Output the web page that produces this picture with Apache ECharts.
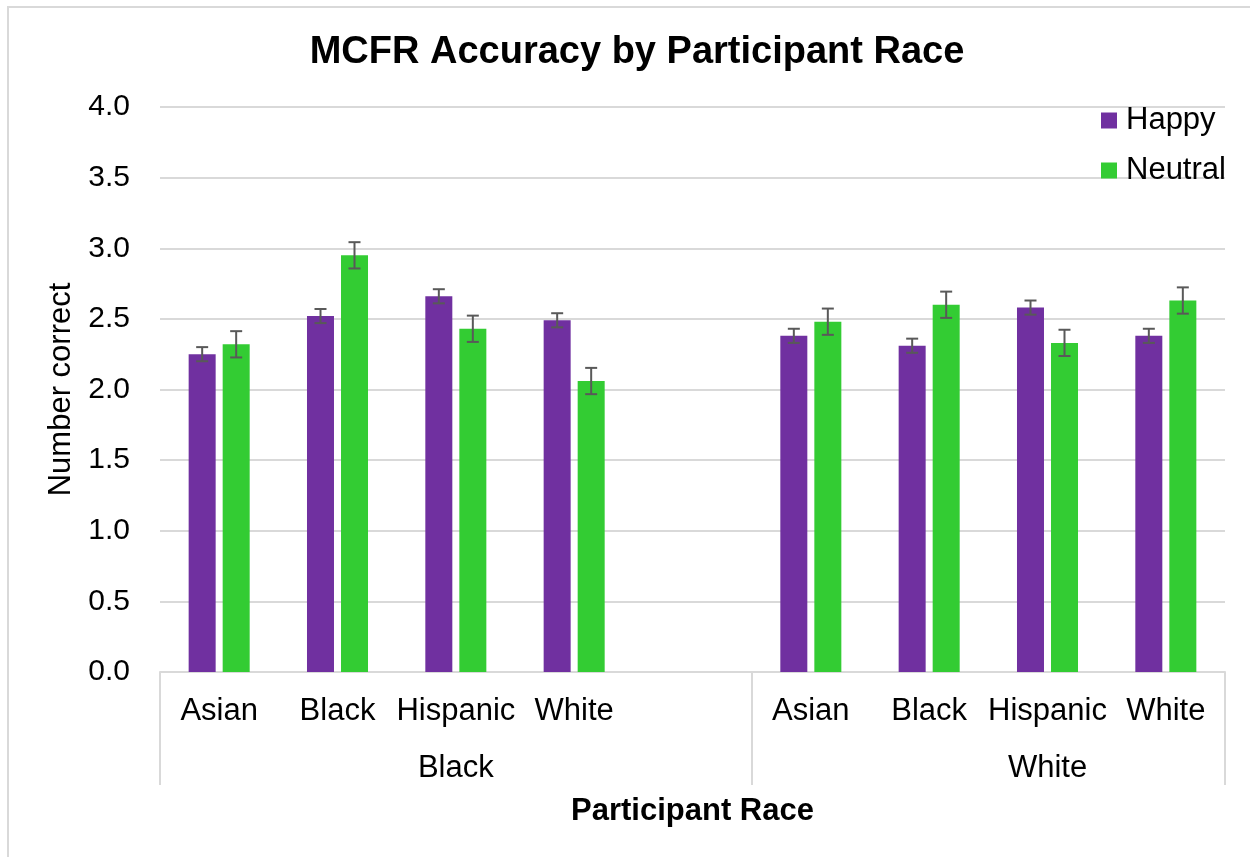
<!DOCTYPE html>
<html>
<head>
<meta charset="utf-8">
<script src="https://cdn.jsdelivr.net/npm/echarts@6/dist/echarts.min.js"></script>
<style>
  html, body { margin: 0; padding: 0; background: #ffffff; }
  #chart { width: 1250px; height: 857px; }
</style>
</head>
<body>
<div id="chart"></div>
<script>
// categories (empty slot keeps the gap after the first group)
var categories = ['Asian', 'Black', 'Hispanic', 'White', '', 'Asian', 'Black', 'Hispanic', 'White'];
var groupNames = ['Black', 'White'];
var groupSizes = [5, 4];
var happy = [2.25, 2.52, 2.66, 2.49, null, 2.38, 2.31, 2.58, 2.38];
var neutral = [2.32, 2.95, 2.43, 2.06, null, 2.48, 2.60, 2.33, 2.63];
var happyErr = [0.05, 0.05, 0.05, 0.05, null, 0.05, 0.05, 0.05, 0.05];
var neutralErr = [0.093, 0.093, 0.093, 0.093, null, 0.093, 0.093, 0.093, 0.093];
var yTicks = [0, 0.5, 1, 1.5, 2, 2.5, 3, 3.5, 4];

var font = 'Arial, "Liberation Sans", sans-serif';
var barW = 27, barGapPx = 7;

// group boundaries and label centres on a 0..n value axis
var bounds = [0], centres = [];
groupSizes.forEach(function (s, k) {
  var start = bounds[k];
  bounds.push(start + s);
  centres.push(start + (k === 0 ? s - 1 : s) / 2);
});

function errData(vals, errs) {
  var out = [];
  vals.forEach(function (v, i) {
    if (v != null) out.push([i, v, errs[i]]);
  });
  return out;
}

function errRender(offset) {
  return function (params, api) {
    var i = api.value(0), v = api.value(1), e = api.value(2);
    var top = api.coord([i, v + e]);
    var bot = api.coord([i, v - e]);
    var x = top[0] + offset;
    var st = { stroke: '#595959', lineWidth: 2 };
    return {
      type: 'group',
      children: [
        { type: 'line', shape: { x1: x, y1: top[1], x2: x, y2: bot[1] }, style: st },
        { type: 'line', shape: { x1: x - 6, y1: top[1], x2: x + 6, y2: top[1] }, style: st },
        { type: 'line', shape: { x1: x - 6, y1: bot[1], x2: x + 6, y2: bot[1] }, style: st }
      ]
    };
  };
}

var chart = echarts.init(document.getElementById('chart'), null, { renderer: 'canvas' });
var off = (barW + barGapPx) / 2;

var option = {
  backgroundColor: '#ffffff',
  animation: false,
  graphic: [{
    type: 'rect',
    shape: { x: 8, y: 7, width: 1300, height: 900 },
    style: { fill: 'none', stroke: '#d9d9d9', lineWidth: 2 },
    silent: true
  }],
  title: {
    text: 'MCFR Accuracy by Participant Race',
    left: 632,
    top: 29,
    textAlign: 'center',
    textStyle: { fontFamily: font, fontSize: 38, fontWeight: 'bold', color: '#000000' }
  },
  legend: {
    data: ['Happy', 'Neutral'],
    orient: 'vertical',
    left: 1101,
    top: 105,
    padding: 0,
    itemWidth: 16,
    itemHeight: 16,
    itemGap: 19,
    icon: 'rect',
    textStyle: { fontFamily: font, fontSize: 31, color: '#000000', padding: [0, 0, 0, 4] }
  },
  grid: { left: 160, right: 25, top: 107, bottom: 185, containLabel: false },
  xAxis: [
    {
      type: 'category',
      data: categories,
      axisLine: { lineStyle: { color: '#d9d9d9', width: 2 } },
      axisTick: { show: false },
      axisLabel: { interval: 0, margin: 24, fontFamily: font, fontSize: 31, color: '#000000' },
      name: 'Participant Race',
      nameLocation: 'middle',
      nameGap: 124,
      nameTextStyle: { fontFamily: font, fontSize: 31, fontWeight: 'bold', color: '#000000' }
    },
    {
      type: 'value',
      position: 'bottom',
      min: 0,
      max: categories.length,
      axisLine: { show: false },
      splitLine: { show: false },
      axisTick: {
        show: true,
        customValues: bounds,
        length: 113,
        lineStyle: { color: '#d9d9d9', width: 2 }
      },
      axisLabel: {
        customValues: centres.map(function (c) { return c + 0.5; }),
        margin: 81,
        fontFamily: font,
        fontSize: 31,
        color: '#000000',
        formatter: function (val) {
          for (var k = 0; k < centres.length; k++) {
            if (Math.abs(val - centres[k] - 0.5) < 0.01) return groupNames[k];
          }
          return '';
        }
      }
    }
  ],
  yAxis: {
    type: 'value',
    min: yTicks[0],
    max: yTicks[yTicks.length - 1],
    interval: 0.5,
    axisLine: { show: false },
    axisTick: { show: false },
    splitLine: { lineStyle: { color: '#d9d9d9', width: 2 } },
    axisLabel: {
      margin: 30,
      fontFamily: font,
      fontSize: 30,
      color: '#000000',
      formatter: function (v) { return v.toFixed(1); }
    },
    name: 'Number correct',
    nameLocation: 'middle',
    nameRotate: 90,
    nameGap: 82,
    nameTextStyle: { fontFamily: font, fontSize: 31, color: '#000000' }
  },
  series: [
    {
      name: 'Happy',
      type: 'bar',
      data: happy,
      barWidth: barW,
      barGap: (barGapPx / barW * 100).toFixed(0) + '%',
      itemStyle: { color: '#7030A0' }
    },
    {
      name: 'Neutral',
      type: 'bar',
      data: neutral,
      barWidth: barW,
      itemStyle: { color: '#33CC33' }
    },
    {
      name: 'Happy err',
      type: 'custom',
      renderItem: errRender(-off),
      data: errData(happy, happyErr),
      encode: { x: 0, y: 1 },
      z: 10
    },
    {
      name: 'Neutral err',
      type: 'custom',
      renderItem: errRender(off),
      data: errData(neutral, neutralErr),
      encode: { x: 0, y: 1 },
      z: 10
    }
  ]
};
chart.setOption(option);
</script>
</body>
</html>
